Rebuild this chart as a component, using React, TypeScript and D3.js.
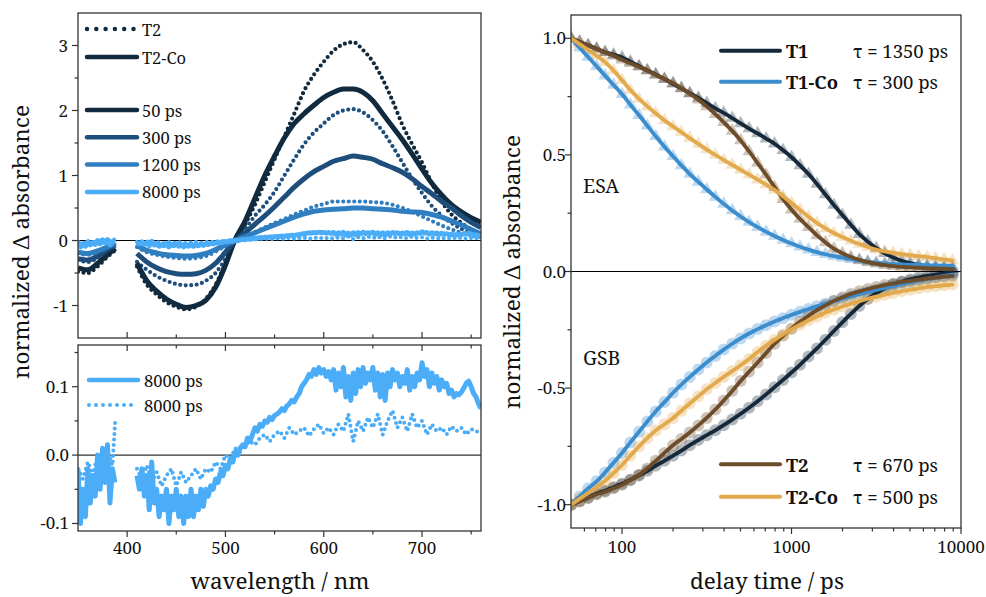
import React from "react";
import * as d3 from "d3";

// ---------- Left panels: transient spectra ----------
const WL = [350, 360, 370, 380, 388, 400, 410, 420, 430, 440, 450, 460, 470, 480, 490, 500, 510, 520, 530, 540, 550, 560, 570, 580, 590, 600, 610, 620, 630, 640, 650, 660, 670, 680, 690, 700, 710, 720, 730, 740, 750, 760];

// T2 (dotted)
const T2_50 = [-0.48, -0.5, -0.4, -0.25, -0.15, null, -0.4, -0.68, -0.83, -0.95, -1.02, -1.06, -1.02, -0.9, -0.68, -0.35, 0.0, 0.25, 0.55, 0.9, 1.25, 1.6, 1.95, 2.3, 2.55, 2.75, 2.92, 3.02, 3.05, 2.93, 2.75, 2.48, 2.15, 1.78, 1.48, 1.2, 0.88, 0.6, 0.4, 0.27, 0.17, 0.1];
const T2_300 = [-0.3, -0.33, -0.27, -0.16, -0.08, null, -0.33, -0.45, -0.55, -0.62, -0.67, -0.69, -0.68, -0.62, -0.5, -0.28, 0.0, 0.18, 0.38, 0.55, 0.75, 1.0, 1.25, 1.48, 1.66, 1.8, 1.93, 2.0, 2.02, 1.97, 1.85, 1.68, 1.45, 1.2, 0.95, 0.73, 0.53, 0.38, 0.27, 0.18, 0.12, 0.08];
const T2_1200 = [-0.2, -0.22, -0.18, -0.12, -0.06, null, -0.1, -0.18, -0.22, -0.25, -0.27, -0.28, -0.27, -0.24, -0.17, -0.08, 0.0, 0.06, 0.13, 0.2, 0.27, 0.33, 0.4, 0.46, 0.52, 0.56, 0.6, 0.6, 0.6, 0.6, 0.59, 0.58, 0.55, 0.5, 0.44, 0.37, 0.3, 0.23, 0.17, 0.12, 0.08, 0.05];
// T2-Co (solid)
const T2CO_50 = [-0.42, -0.45, -0.35, -0.22, -0.12, null, -0.35, -0.62, -0.78, -0.9, -0.98, -1.03, -1.0, -0.92, -0.72, -0.38, 0.02, 0.3, 0.65, 1.0, 1.3, 1.58, 1.8, 1.95, 2.08, 2.2, 2.28, 2.33, 2.33, 2.28, 2.15, 1.95, 1.75, 1.55, 1.33, 1.1, 0.88, 0.7, 0.55, 0.44, 0.35, 0.28];
const T2CO_300 = [-0.28, -0.3, -0.24, -0.14, -0.07, null, -0.2, -0.33, -0.42, -0.48, -0.51, -0.52, -0.51, -0.46, -0.35, -0.18, 0.0, 0.12, 0.25, 0.38, 0.52, 0.67, 0.82, 0.95, 1.06, 1.14, 1.22, 1.26, 1.3, 1.28, 1.25, 1.18, 1.12, 1.05, 0.95, 0.83, 0.72, 0.6, 0.5, 0.38, 0.28, 0.2];
const T2CO_1200 = [-0.18, -0.2, -0.16, -0.1, -0.05, null, -0.08, -0.15, -0.19, -0.22, -0.23, -0.24, -0.23, -0.2, -0.14, -0.07, 0.0, 0.06, 0.12, 0.18, 0.24, 0.3, 0.36, 0.41, 0.45, 0.47, 0.48, 0.49, 0.5, 0.5, 0.49, 0.48, 0.47, 0.45, 0.44, 0.43, 0.4, 0.36, 0.3, 0.24, 0.17, 0.1];

// 8000 ps traces (finer sampling): solid every 2.5 nm, dotted every 5 nm
const WL_8000_SOLID = [...d3.range(350, 389, 2.5), 400, ...d3.range(410, 761, 2.5)];
const T2CO_8000 = [
  -0.02, -0.1, -0.05, -0.09, -0.02, -0.07, -0.03, -0.06, 0.0, -0.05, 0.01, -0.04, 0.015, -0.07, -0.02, -0.04,
  null,
  -0.03, -0.05, -0.02, -0.06,
  -0.03, -0.08, -0.01, -0.07,
  -0.05, -0.09, -0.06, -0.08,
  -0.05, -0.1, -0.06, -0.08,
  -0.05, -0.09, -0.06, -0.1,
  -0.06, -0.09, -0.05, -0.09,
  -0.06, -0.08, -0.05, -0.075,
  -0.05, -0.06, -0.045, -0.05,
  -0.035, -0.04, -0.025, -0.03,
  -0.015, -0.02, -0.005, -0.01,
  0.005, 0.0, 0.01, 0.015,
  0.012, 0.025, 0.02, 0.03,
  0.04, 0.035, 0.045, 0.042,
  0.05, 0.048, 0.055, 0.052,
  0.058, 0.06, 0.063, 0.068,
  0.065, 0.072, 0.075, 0.08,
  0.078, 0.085, 0.09, 0.1,
  0.105, 0.11, 0.118, 0.115,
  0.125, 0.118, 0.128, 0.12,
  0.125, 0.115, 0.122, 0.11,
  0.125, 0.095, 0.12, 0.1,
  0.128, 0.085, 0.115, 0.08,
  0.12, 0.09, 0.125, 0.1,
  0.128, 0.105, 0.12, 0.11,
  0.128, 0.095, 0.12, 0.085,
  0.118, 0.08, 0.12, 0.1,
  0.125, 0.11, 0.12, 0.1,
  0.115, 0.105, 0.125, 0.095,
  0.115, 0.1, 0.12, 0.11,
  0.135, 0.115, 0.125, 0.1,
  0.12, 0.105, 0.115, 0.095,
  0.11, 0.1, 0.105, 0.09,
  0.095, 0.085, 0.09, 0.088,
  0.092, 0.098, 0.105, 0.108,
  0.1, 0.09, 0.085, 0.075,
  0.068];
const WL_8000_DOT = [350, 355, 360, 365, 370, 375, 380, 385, 388, 400, ...d3.range(410, 761, 5)];
const T2_8000 = [
  -0.02, -0.035, -0.01, -0.03, 0.0, -0.02, 0.005, -0.015, 0.053, null,
  -0.02, -0.035, -0.015, -0.04, -0.025, -0.045, -0.03, -0.02, -0.045, -0.025,
  -0.04, -0.03, -0.02, -0.035, -0.02, -0.025, -0.01, -0.02, 0.0, -0.005,
  0.01, 0.005, 0.015, 0.02, 0.015, 0.025, 0.03, 0.02, 0.03, 0.035,
  0.025, 0.04, 0.03, 0.035, 0.04, 0.028, 0.038, 0.045, 0.032, 0.04,
  0.03, 0.045, 0.035, 0.06, 0.02, 0.05, 0.035, 0.055, 0.04, 0.06,
  0.03, 0.05, 0.065, 0.04, 0.055, 0.035, 0.06, 0.04, 0.05, 0.03,
  0.045, 0.035, 0.04, 0.03, 0.042, 0.035, 0.04, 0.03, 0.038, 0.035,
  0.032];

const TIME_LABELS = ["50 ps", "300 ps", "1200 ps", "8000 ps"];
const LEFT_Y_TICKS = [-1, 0, 1, 2, 3];
const LEFT_Y_MINOR = [-0.5, 0.5, 1.5, 2.5];
const LB_Y_TICKS = [0.1, 0.0, -0.1];
const LB_Y_MINOR = [0.15, 0.05, -0.05];
const WL_TICKS = [400, 500, 600, 700];
const WL_MINOR = [450, 550, 650, 750];

// ---------- Right panel: kinetics ----------
const DELAYS = [50.1, 56.2, 63.1, 70.8, 79.4, 89.1, 100, 112, 126, 141, 158, 178, 200, 224, 251, 282, 316, 355, 398, 447, 501, 562, 631, 708, 794, 891, 1000, 1122, 1259, 1413, 1585, 1778, 1995, 2239, 2512, 2818, 3162, 3548, 3981, 4467, 5012, 5623, 6310, 7079, 7943, 8913];
const ESA_T1 = [1.0, 0.985, 0.97, 0.955, 0.94, 0.93, 0.918, 0.9, 0.88, 0.862, 0.845, 0.825, 0.805, 0.785, 0.765, 0.745, 0.722, 0.7, 0.68, 0.658, 0.635, 0.613, 0.592, 0.57, 0.548, 0.52, 0.49, 0.455, 0.418, 0.375, 0.33, 0.285, 0.242, 0.2, 0.16, 0.128, 0.1, 0.078, 0.06, 0.046, 0.036, 0.028, 0.022, 0.017, 0.013, 0.01];
const ESA_T2 = [1.0, 0.985, 0.97, 0.955, 0.94, 0.925, 0.908, 0.893, 0.878, 0.862, 0.843, 0.826, 0.808, 0.786, 0.762, 0.737, 0.708, 0.675, 0.64, 0.603, 0.562, 0.515, 0.465, 0.415, 0.362, 0.31, 0.265, 0.225, 0.19, 0.155, 0.125, 0.098, 0.078, 0.062, 0.05, 0.04, 0.033, 0.027, 0.023, 0.02, 0.018, 0.016, 0.014, 0.013, 0.012, 0.01];
const ESA_T2CO = [1.0, 0.975, 0.95, 0.925, 0.898, 0.862, 0.82, 0.778, 0.74, 0.708, 0.678, 0.648, 0.622, 0.597, 0.572, 0.547, 0.523, 0.5, 0.478, 0.457, 0.436, 0.415, 0.394, 0.373, 0.35, 0.323, 0.294, 0.264, 0.235, 0.208, 0.185, 0.165, 0.148, 0.132, 0.118, 0.105, 0.094, 0.086, 0.08, 0.075, 0.07, 0.066, 0.062, 0.057, 0.052, 0.047];
const ESA_T1CO = [1.0, 0.96, 0.92, 0.88, 0.84, 0.8, 0.76, 0.715, 0.67, 0.625, 0.58, 0.535, 0.494, 0.455, 0.418, 0.384, 0.352, 0.32, 0.29, 0.262, 0.236, 0.212, 0.19, 0.17, 0.152, 0.135, 0.12, 0.106, 0.094, 0.083, 0.074, 0.066, 0.059, 0.053, 0.047, 0.042, 0.038, 0.035, 0.032, 0.03, 0.029, 0.028, 0.027, 0.026, 0.025, 0.024];
const GSB_T1 = [-1.0, -0.985, -0.97, -0.952, -0.94, -0.925, -0.91, -0.893, -0.875, -0.855, -0.833, -0.812, -0.79, -0.768, -0.745, -0.723, -0.702, -0.681, -0.659, -0.635, -0.61, -0.584, -0.556, -0.527, -0.496, -0.465, -0.433, -0.4, -0.365, -0.33, -0.293, -0.255, -0.218, -0.182, -0.148, -0.118, -0.093, -0.072, -0.056, -0.044, -0.034, -0.026, -0.019, -0.013, -0.008, -0.005];
const GSB_T2 = [-1.0, -0.985, -0.97, -0.955, -0.945, -0.93, -0.915, -0.895, -0.872, -0.845, -0.812, -0.778, -0.745, -0.718, -0.69, -0.66, -0.628, -0.592, -0.553, -0.512, -0.47, -0.43, -0.39, -0.35, -0.31, -0.276, -0.245, -0.216, -0.19, -0.166, -0.145, -0.126, -0.11, -0.096, -0.085, -0.075, -0.066, -0.058, -0.052, -0.045, -0.04, -0.035, -0.03, -0.026, -0.022, -0.019];
const GSB_T1CO = [-1.0, -0.965, -0.93, -0.9, -0.862, -0.82, -0.778, -0.733, -0.687, -0.643, -0.6, -0.56, -0.52, -0.485, -0.452, -0.42, -0.39, -0.362, -0.335, -0.31, -0.287, -0.266, -0.247, -0.23, -0.214, -0.2, -0.186, -0.173, -0.161, -0.149, -0.138, -0.127, -0.117, -0.107, -0.097, -0.088, -0.079, -0.07, -0.062, -0.054, -0.046, -0.039, -0.032, -0.025, -0.019, -0.013];
const GSB_T2CO = [-1.0, -0.975, -0.95, -0.925, -0.898, -0.865, -0.83, -0.79, -0.75, -0.715, -0.682, -0.655, -0.628, -0.597, -0.566, -0.535, -0.505, -0.478, -0.452, -0.427, -0.402, -0.375, -0.345, -0.318, -0.293, -0.27, -0.248, -0.228, -0.21, -0.193, -0.177, -0.163, -0.15, -0.138, -0.127, -0.117, -0.108, -0.1, -0.092, -0.085, -0.078, -0.072, -0.067, -0.063, -0.059, -0.056];

const R_Y_TICKS = [1.0, 0.5, 0.0, -0.5, -1.0];
const R_Y_LABELS = ["1.0", "0.5", "0.0", "-0.5", "-1.0"];
const R_Y_MINOR = [0.75, 0.25, -0.25, -0.75];
const R_X_TICKS = [100, 1000, 10000];
const R_X_MINOR = [60, 70, 80, 90, 200, 300, 400, 500, 600, 700, 800, 900, 2000, 3000, 4000, 5000, 6000, 7000, 8000, 9000];
const SAMPLE_NAMES = ["T1", "T1-Co", "T2", "T2-Co"];
const TAUS = ["τ = 1350 ps", "τ = 300 ps", "τ = 670 ps", "τ = 500 ps"];

// ---------- styles ----------
const FONT = '"Noto Serif", "Liberation Serif", serif';
const C_TIME = ["#112a3e", "#1e4f7c", "#2f7ec0", "#4badf8"];
const C_SAMPLE = ["#16293a", "#3b8dcd", "#6d4c2a", "#e2a94d"];
const FRAME = "#333333";
const TICK_FS = 17;
const LEG_FS = 16.5;
const TITLE_FS = 22.5;

type Num = number | null;

function pathOf(xs: number[], ys: Num[], sx: (v: number) => number, sy: (v: number) => number, curve: d3.CurveFactory) {
  return d3
    .line<number>()
    .defined((i) => ys[i] != null)
    .x((i) => sx(xs[i]))
    .y((i) => sy(ys[i] as number))
    .curve(curve)(d3.range(Math.min(xs.length, ys.length))) || "";
}

export default function App() {
  const LT = { x0: 78, x1: 481, y0: 13, y1: 338 };
  const LB = { x0: 78, x1: 481, y0: 345, y1: 531 };
  const R = { x0: 571, x1: 961, y0: 15, y1: 528 };

  const xW = d3.scaleLinear().domain([350, 760]).range([LT.x0, LT.x1]);
  const yT = d3.scaleLinear().domain([-1.5, 3.5]).range([LT.y1, LT.y0]);
  const yB = d3.scaleLinear().domain([-0.111, 0.161]).range([LB.y1, LB.y0]);
  const xR = d3.scaleLog().domain([50, 10000]).range([R.x0, R.x1]);
  const yR = d3.scaleLinear().domain([-1.1, 1.1]).range([R.y1, R.y0]);

  const dottedTop = [
    { wl: WL, v: T2_50, c: C_TIME[0] },
    { wl: WL, v: T2_300, c: C_TIME[1] },
    { wl: WL, v: T2_1200, c: C_TIME[2] },
    { wl: WL_8000_DOT, v: T2_8000, c: C_TIME[3] },
  ];
  const solidTop = [
    { wl: WL, v: T2CO_50, c: C_TIME[0] },
    { wl: WL, v: T2CO_300, c: C_TIME[1] },
    { wl: WL, v: T2CO_1200, c: C_TIME[2] },
    { wl: WL_8000_SOLID, v: T2CO_8000, c: C_TIME[3] },
  ];

  const esa = [
    { v: ESA_T1, c: C_SAMPLE[0] },
    { v: ESA_T1CO, c: C_SAMPLE[1] },
    { v: ESA_T2, c: C_SAMPLE[2] },
    { v: ESA_T2CO, c: C_SAMPLE[3] },
  ];
  const gsb = [
    { v: GSB_T1, c: C_SAMPLE[0] },
    { v: GSB_T1CO, c: C_SAMPLE[1] },
    { v: GSB_T2, c: C_SAMPLE[2] },
    { v: GSB_T2CO, c: C_SAMPLE[3] },
  ];
  const tri = d3.symbol().type(d3.symbolTriangle).size(75)() || "";

  const txt = (x: number, y: number, s: string, size: number, anchor = "start", weight = "normal") => (
    <text x={x} y={y} style={{ fontFamily: FONT, fontSize: size, fontWeight: weight as any }} textAnchor={anchor} fill="#111">
      {s}
    </text>
  );

  return (
    <svg width={986} height={597} style={{ position: "absolute", left: 0, top: 0, background: "#fff", fontFamily: FONT }}>
      <defs>
        <clipPath id="cLT"><rect x={LT.x0} y={LT.y0} width={LT.x1 - LT.x0} height={LT.y1 - LT.y0} /></clipPath>
        <clipPath id="cLB"><rect x={LB.x0} y={LB.y0} width={LB.x1 - LB.x0} height={LB.y1 - LB.y0} /></clipPath>
        <clipPath id="cR"><rect x={R.x0} y={R.y0} width={R.x1 - R.x0} height={R.y1 - R.y0} /></clipPath>
      </defs>
      <rect x={0} y={0} width={986} height={597} fill="#fff" />

      {/* ===== Left top panel ===== */}
      <line x1={LT.x0} x2={LT.x1} y1={yT(0)} y2={yT(0)} stroke="#000" strokeWidth={1} />
      <g clipPath="url(#cLT)">
        {dottedTop.map((s, i) => (
          <path key={"d" + i} d={pathOf(s.wl, s.v, xW, yT, d3.curveMonotoneX)} fill="none" stroke={s.c} strokeWidth={4.2} strokeLinecap="round" strokeDasharray="0 5.5" />
        ))}
        {solidTop.map((s, i) => (
          <path key={"s" + i} d={pathOf(s.wl, s.v, xW, yT, d3.curveMonotoneX)} fill="none" stroke={s.c} strokeWidth={5} strokeLinejoin="round" />
        ))}
      </g>
      <rect x={LT.x0} y={LT.y0} width={LT.x1 - LT.x0} height={LT.y1 - LT.y0} fill="none" stroke={FRAME} strokeWidth={1.3} />
      {LEFT_Y_TICKS.map((t) => (
        <g key={"lty" + t}>
          <line x1={LT.x0 - 6} x2={LT.x0} y1={yT(t)} y2={yT(t)} stroke={FRAME} strokeWidth={1.2} />
          {txt(LT.x0 - 10, yT(t) + 6, String(t), TICK_FS, "end")}
        </g>
      ))}
      {LEFT_Y_MINOR.map((t) => (
        <line key={"ltym" + t} x1={LT.x0 - 3.5} x2={LT.x0} y1={yT(t)} y2={yT(t)} stroke={FRAME} strokeWidth={1.2} />
      ))}
      {WL_TICKS.map((t) => (
        <line key={"ltx" + t} x1={xW(t)} x2={xW(t)} y1={LT.y1} y2={LT.y1 - 6} stroke={FRAME} strokeWidth={1.2} />
      ))}
      {WL_MINOR.map((t) => (
        <line key={"ltxm" + t} x1={xW(t)} x2={xW(t)} y1={LT.y1} y2={LT.y1 - 3.5} stroke={FRAME} strokeWidth={1.2} />
      ))}
      {/* legend left top */}
      <line x1={87} x2={137} y1={29} y2={29} stroke={C_TIME[0]} strokeWidth={4.5} strokeLinecap="round" strokeDasharray="0 9.3" />
      {txt(142, 36, "T2", LEG_FS)}
      <line x1={87} x2={137} y1={57} y2={57} stroke={C_TIME[0]} strokeWidth={4.5} strokeLinecap="round" />
      {txt(142, 63.5, "T2-Co", LEG_FS)}
      {TIME_LABELS.map((l, i) => (
        <g key={"lg" + i}>
          <line x1={87} x2={137} y1={110 + i * 27.3} y2={110 + i * 27.3} stroke={C_TIME[i]} strokeWidth={4.5} strokeLinecap="round" />
          {txt(142, 116.5 + i * 27.3, l, LEG_FS)}
        </g>
      ))}

      {/* ===== Left bottom panel ===== */}
      <line x1={LB.x0} x2={LB.x1} y1={yB(0)} y2={yB(0)} stroke="#000" strokeWidth={1} />
      <g clipPath="url(#cLB)">
        <path d={pathOf(WL_8000_DOT, T2_8000, xW, yB, d3.curveLinear)} fill="none" stroke={C_TIME[3]} strokeWidth={4} strokeLinecap="round" strokeDasharray="0 5.5" />
        <path d={pathOf(WL_8000_SOLID, T2CO_8000, xW, yB, d3.curveLinear)} fill="none" stroke={C_TIME[3]} strokeWidth={5} strokeLinejoin="round" />
      </g>
      <rect x={LB.x0} y={LB.y0} width={LB.x1 - LB.x0} height={LB.y1 - LB.y0} fill="none" stroke={FRAME} strokeWidth={1.3} />
      {LB_Y_TICKS.map((t) => (
        <g key={"lby" + t}>
          <line x1={LB.x0 - 6} x2={LB.x0} y1={yB(t)} y2={yB(t)} stroke={FRAME} strokeWidth={1.2} />
          {txt(LB.x0 - 9, yB(t) + 6, t.toFixed(1), TICK_FS, "end")}
        </g>
      ))}
      {LB_Y_MINOR.map((t) => (
        <line key={"lbym" + t} x1={LB.x0 - 3.5} x2={LB.x0} y1={yB(t)} y2={yB(t)} stroke={FRAME} strokeWidth={1.2} />
      ))}
      {WL_TICKS.map((t) => (
        <g key={"lbx" + t}>
          <line x1={xW(t)} x2={xW(t)} y1={LB.y0} y2={LB.y0 + 6} stroke={FRAME} strokeWidth={1.2} />
          <line x1={xW(t)} x2={xW(t)} y1={LB.y1} y2={LB.y1 + 6} stroke={FRAME} strokeWidth={1.2} />
          {txt(xW(t), 554, String(t), TICK_FS, "middle")}
        </g>
      ))}
      {WL_MINOR.map((t) => (
        <g key={"lbxm" + t}>
          <line x1={xW(t)} x2={xW(t)} y1={LB.y0} y2={LB.y0 + 3.5} stroke={FRAME} strokeWidth={1.2} />
          <line x1={xW(t)} x2={xW(t)} y1={LB.y1} y2={LB.y1 + 3.5} stroke={FRAME} strokeWidth={1.2} />
        </g>
      ))}
      <line x1={89} x2={138} y1={380} y2={380} stroke={C_TIME[3]} strokeWidth={4.5} strokeLinecap="round" />
      {txt(144, 386.5, TIME_LABELS[3], LEG_FS)}
      <line x1={89} x2={138} y1={405} y2={405} stroke={C_TIME[3]} strokeWidth={4} strokeLinecap="round" strokeDasharray="0 7" />
      {txt(144, 411.5, TIME_LABELS[3], LEG_FS)}

      {/* axis titles left */}
      <text x={280} y={589} style={{ fontFamily: FONT, fontSize: TITLE_FS }} textAnchor="middle" fill="#111">wavelength / nm</text>
      <text transform="translate(29,242) rotate(-90)" style={{ fontFamily: FONT, fontSize: TITLE_FS }} textAnchor="middle" fill="#111">normalized Δ absorbance</text>

      {/* ===== Right panel ===== */}
      <g clipPath="url(#cR)">
        {esa.map((s, k) => (
          <g key={"esa" + k} fill={s.c} fillOpacity={0.33}>
            {DELAYS.map((t, i) => (
              <path key={i} d={tri} transform={`translate(${xR(t)},${yR(s.v[i])})`} />
            ))}
          </g>
        ))}
        {gsb.map((s, k) => (
          <g key={"gsb" + k} fill={s.c} fillOpacity={0.33}>
            {DELAYS.map((t, i) => (
              <circle key={i} cx={xR(t)} cy={yR(s.v[i])} r={6} />
            ))}
          </g>
        ))}
      </g>
      <line x1={R.x0} x2={R.x1} y1={yR(0)} y2={yR(0)} stroke="#000" strokeWidth={1.1} />
      <g clipPath="url(#cR)">
        {[...esa, ...gsb].map((s, k) => (
          <path key={"fit" + k} d={pathOf(DELAYS, s.v, xR, yR, d3.curveMonotoneX)} fill="none" stroke={s.c} strokeWidth={3.8} strokeLinecap="round" />
        ))}
      </g>
      <rect x={R.x0} y={R.y0} width={R.x1 - R.x0} height={R.y1 - R.y0} fill="none" stroke={FRAME} strokeWidth={1.3} />
      {R_Y_TICKS.map((t, i) => (
        <g key={"ry" + i}>
          <line x1={R.x0 - 6} x2={R.x0} y1={yR(t)} y2={yR(t)} stroke={FRAME} strokeWidth={1.2} />
          {txt(R.x0 - 5, yR(t) + 6, R_Y_LABELS[i], TICK_FS, "end")}
        </g>
      ))}
      {R_Y_MINOR.map((t) => (
        <line key={"rym" + t} x1={R.x0 - 3.5} x2={R.x0} y1={yR(t)} y2={yR(t)} stroke={FRAME} strokeWidth={1.2} />
      ))}
      {R_X_TICKS.map((t) => (
        <g key={"rx" + t}>
          <line x1={xR(t)} x2={xR(t)} y1={R.y1} y2={R.y1 + 6} stroke={FRAME} strokeWidth={1.2} />
          {txt(xR(t), 553, String(t), TICK_FS, "middle")}
        </g>
      ))}
      {R_X_MINOR.map((t) => (
        <line key={"rxm" + t} x1={xR(t)} x2={xR(t)} y1={R.y1} y2={R.y1 + 3.5} stroke={FRAME} strokeWidth={1.2} />
      ))}
      {/* right legends */}
      {[0, 1, 2, 3].map((i) => {
        const y = i < 2 ? 50.7 + i * 31 : 464.3 + (i - 2) * 32.4;
        return (
          <g key={"rl" + i}>
            <line x1={721} x2={780} y1={y} y2={y} stroke={C_SAMPLE[i]} strokeWidth={4} strokeLinecap="round" />
            {txt(786, y + 7.5, SAMPLE_NAMES[i], 18.5, "start", "bold")}
            {txt(853, y + 7.5, TAUS[i], 18.5)}
          </g>
        );
      })}
      {txt(583, 193, "ESA", 19.5)}
      {txt(583, 365, "GSB", 19.5)}
      <text x={767} y={589} style={{ fontFamily: FONT, fontSize: TITLE_FS }} textAnchor="middle" fill="#111">delay time / ps</text>
      <text transform="translate(520,272) rotate(-90)" style={{ fontFamily: FONT, fontSize: TITLE_FS }} textAnchor="middle" fill="#111">normalized Δ absorbance</text>
    </svg>
  );
}
